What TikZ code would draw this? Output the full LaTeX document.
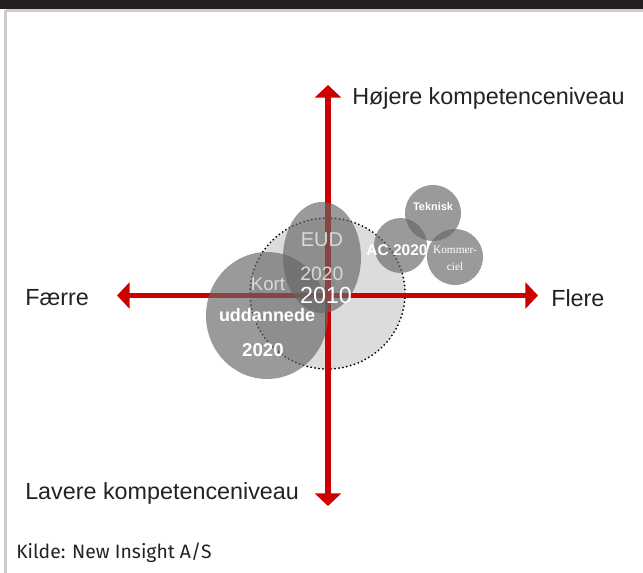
\documentclass[tikz,border=0pt]{standalone}
\usepackage{fontspec}
\setmainfont{Liberation Sans}
\newfontfamily\kommfont{Liberation Serif}
\newfontfamily\sourcefont{Fira Sans}
\usetikzlibrary{positioning, arrows.meta, shapes.geometric}
\definecolor{axisred}{HTML}{CC0000}
\definecolor{bubblegray}{HTML}{666666}
\definecolor{palegray}{HTML}{DCDCDC}
\definecolor{framegray}{HTML}{CCCCCC}
\definecolor{topbar}{HTML}{231F20}
\definecolor{labeltext}{HTML}{222222}
\tikzset{
    axis_line/.style={line width=4pt, draw=axisred,
        {Triangle[width=19.5pt, length=9.5pt]}-{Triangle[width=19.5pt, length=9.5pt]}},
    axis_label/.style={anchor=west, inner sep=0pt, text=labeltext,
        font=\fontsize{17.5}{20}\selectfont},
    bubble/.style={ellipse, inner sep=0pt, fill=bubblegray, fill opacity=0.66, draw=none},
    now_bubble/.style={ellipse, inner sep=0pt, fill=palegray, draw=black,
        line width=1.5pt, line cap=round, dash pattern=on 0pt off 3pt},
    bubble_text/.style={inner sep=0pt, text=white, align=center},
    faint_text/.style={inner sep=0pt, text=white!85!black, align=center},
}
\begin{document}
\begin{tikzpicture}[x=0.75pt, y=-0.75pt]
      \useasboundingbox (0,0) rectangle (643,573);
      %%%%%%%%%
      % FRAME %
      %%%%%%%%%
      \fill [topbar] (0,0) rectangle (643,9);
      \draw [framegray, line width=2.2pt] (5.5,10.5) -- (643,10.5);
      \draw [framegray, line width=2.2pt] (5.5,10) -- (5.5,573);

      %%%%%%%%%%%%%%%%%%%%%%
      % 2010 (BACKGROUND)  %
      %%%%%%%%%%%%%%%%%%%%%%
      \node (bubble_2010) [now_bubble, minimum width=116.25pt, minimum height=113.25pt]
            at (327.5,293.5) {};

      %%%%%%%%
      % AXES %
      %%%%%%%%
      \coordinate (axis_west) at (117,295.5);
      \coordinate (axis_east) at (538,295.5);
      \coordinate (axis_north) at (328,85);
      \coordinate (axis_south) at (328,506);
      \draw [axis_line] (axis_west) -- (axis_east);
      \draw [axis_line] (axis_south) -- (axis_north);

      \node (label_north) [axis_label] at (352,98) {Højere kompetenceniveau};
      \node (label_south) [axis_label] at (25,493) {Lavere kompetenceniveau};
      \node (label_west) [axis_label] at (25,298) {Færre};
      \node (label_east) [axis_label] at (551,298) {Flere};

      %%%%%%%%%%%
      % BUBBLES %
      %%%%%%%%%%%
      \node (bubble_kort) [bubble, minimum width=91.5pt, minimum height=95.25pt]
            at (267,315.5) {};
      \node (bubble_eud) [bubble, minimum width=58.5pt, minimum height=83.25pt]
            at (322,257.5) {};
      \node (bubble_ac) [bubble, minimum width=39.75pt, minimum height=41.25pt]
            at (400.5,245.5) {};
      \node (bubble_teknisk) [bubble, minimum width=42pt, minimum height=42pt]
            at (433,213) {};
      \node (bubble_komm) [bubble, minimum width=42pt, minimum height=42pt]
            at (455,257) {};

      %%%%%%%%%
      % TEXTS %
      %%%%%%%%%
      \node (text_eud) [faint_text, font=\fontsize{15}{17}\selectfont] at (322,240) {EUD};
      \node (text_eud_year) [faint_text, font=\fontsize{14.5}{17}\selectfont] at (322,274) {2020};
      \node (text_now) [bubble_text, font=\fontsize{17.5}{20}\selectfont] at (326,295) {2010};
      \node (text_kort) [faint_text, font=\fontsize{14}{17}\selectfont] at (268,284) {Kort};
      \node (text_udd) [bubble_text, font=\bfseries\fontsize{13.5}{16}\selectfont] at (267,315) {uddannede};
      \node (text_kort_year) [bubble_text, font=\bfseries\fontsize{14}{17}\selectfont] at (263,350) {2020};
      \node (text_ac) [bubble_text, font=\bfseries\fontsize{11.6}{14}\selectfont] at (397,250) {AC 2020};
      \node (text_teknisk) [bubble_text, font=\bfseries\fontsize{8.2}{10}\selectfont] at (433,207) {Teknisk};
      \node (text_komm) [bubble_text, font=\kommfont\fontsize{8.5}{12.5}\selectfont] at (455,258.5) {Kommer-\\ciel};

      %%%%%%%%%%
      % SOURCE %
      %%%%%%%%%%
      \node (source) [anchor=base west, inner sep=0pt, text=labeltext,
            font=\sourcefont\fontsize{14.5}{17}\selectfont] at (16,558) {Kilde: New Insight A/S};
\end{tikzpicture}
\end{document}
